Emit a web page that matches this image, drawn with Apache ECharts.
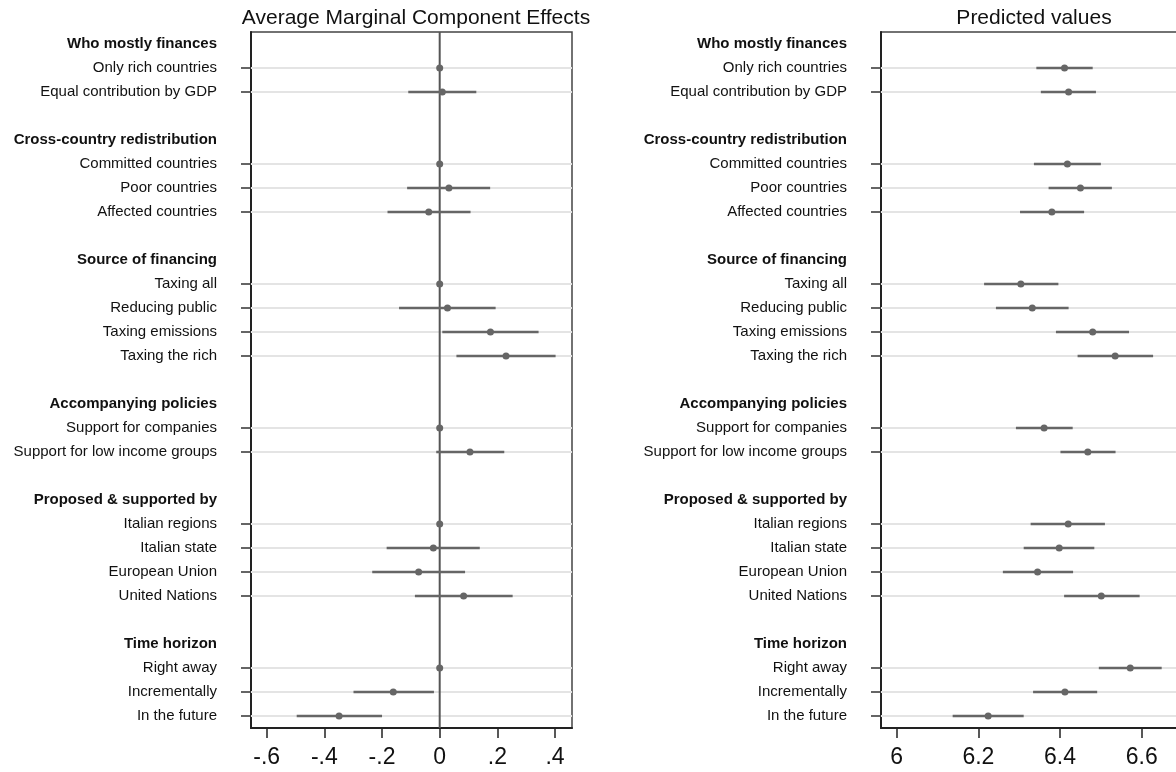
<!DOCTYPE html>
<html>
<head>
<meta charset="utf-8">
<script src="https://cdn.jsdelivr.net/npm/echarts@6/dist/echarts.min.js"></script>
<style>
html,body{margin:0;padding:0;background:#fff;}
#c{width:1176px;height:772px;}
#err{position:absolute;left:0;top:0;font:10px monospace;color:red;white-space:pre-wrap;width:600px;}
</style>
</head>
<body>
<div id="c"></div>
<div id="err"></div>
<script>
// ---------- DATA ----------
const rowLabels = [
  'Who mostly finances', 'Only rich countries', 'Equal contribution by GDP', '',
  'Cross-country redistribution', 'Committed countries', 'Poor countries', 'Affected countries', '',
  'Source of financing', 'Taxing all', 'Reducing public', 'Taxing emissions', 'Taxing the rich', '',
  'Accompanying policies', 'Support for companies', 'Support for low income groups', '',
  'Proposed & supported by', 'Italian regions', 'Italian state', 'European Union', 'United Nations', '',
  'Time horizon', 'Right away', 'Incrementally', 'In the future'
];
const headerFlags = [1,0,0,0, 1,0,0,0,0, 1,0,0,0,0,0, 1,0,0,0, 1,0,0,0,0,0, 1,0,0,0];

const amceEst = [null, 0, 0.009, null, null, 0, 0.032, -0.038, null, null, 0, 0.027, 0.176, 0.230, null, null, 0, 0.105, null, null, 0, -0.022, -0.073, 0.083, null, null, 0, -0.161, -0.349];
const amceLo  = [null, null, -0.109, null, null, null, -0.113, -0.181, null, null, null, -0.141, 0.009, 0.058, null, null, null, -0.012, null, null, null, -0.184, -0.234, -0.086, null, null, null, -0.299, -0.496];
const amceHi  = [null, null, 0.127, null, null, null, 0.175, 0.107, null, null, null, 0.194, 0.343, 0.402, null, null, null, 0.224, null, null, null, 0.139, 0.088, 0.253, null, null, null, -0.020, -0.200];

const predEst = [null, 6.411, 6.421, null, null, 6.418, 6.450, 6.380, null, null, 6.304, 6.332, 6.480, 6.535, null, null, 6.361, 6.468, null, null, 6.420, 6.398, 6.345, 6.501, null, null, 6.572, 6.412, 6.224];
const predLo  = [null, 6.342, 6.353, null, null, 6.336, 6.372, 6.302, null, null, 6.214, 6.243, 6.390, 6.443, null, null, 6.292, 6.401, null, null, 6.328, 6.311, 6.260, 6.410, null, null, 6.495, 6.334, 6.137];
const predHi  = [null, 6.480, 6.488, null, null, 6.500, 6.527, 6.459, null, null, 6.396, 6.421, 6.569, 6.628, null, null, 6.431, 6.536, null, null, 6.510, 6.484, 6.432, 6.595, null, null, 6.649, 6.491, 6.311];

const amceTicks = [-0.6, -0.4, -0.2, 0, 0.2, 0.4];
const amceTickLabels = ['-.6', '-.4', '-.2', '0', '.2', '.4'];
const predTicks = [6, 6.2, 6.4, 6.6];
const predTickLabels = ['6', '6.2', '6.4', '6.6'];

const titles = ['Average Marginal Component Effects', 'Predicted values'];

// ---------- STYLE / LAYOUT ----------
const FONT = 'Liberation Sans, Arial, Helvetica, sans-serif';
const C_DARK = '#222';
const C_MARK = '#666';
const C_GRID = '#e4e4e4';

const panels = [
  { left: 251, width: 321, min: -0.6545, max: 0.4589, est: amceEst, lo: amceLo, hi: amceHi,
    ticks: amceTicks, tickLabels: amceTickLabels, zero: true, titleX: 411 },
  { left: 881, width: 310, min: 5.9615, max: 6.7208, est: predEst, lo: predLo, hi: predHi,
    ticks: predTicks, tickLabels: predTickLabels, zero: false, titleX: 1029 }
];

const grids = [], xAxes = [], yAxes = [], series = [], titleOpts = [];

panels.forEach((p, i) => {
  grids.push({ left: p.left, top: 32, width: p.width, height: 696, outerBoundsMode: 'none', containLabel: false,
    show: true, borderColor: '#444', borderWidth: 1.5, backgroundColor: 'transparent' });
  titleOpts.push({ text: titles[i], left: p.titleX, top: 3, textAlign: 'center',
    textStyle: { fontFamily: FONT, fontSize: 21, fontWeight: 'normal', color: '#111' } });
  xAxes.push({
    type: 'value', gridIndex: i, min: p.min, max: p.max,
    axisLine: { show: true, onZero: false, lineStyle: { color: C_DARK, width: 2 } },
    axisTick: { show: true, length: 10, customValues: p.ticks, lineStyle: { color: C_DARK, width: 1.5 } },
    axisLabel: { show: true, customValues: p.ticks, margin: 18, fontFamily: FONT, fontSize: 23, color: '#111',
      formatter: v => { const k = p.ticks.findIndex(t => Math.abs(t - v) < 1e-9); return k >= 0 ? p.tickLabels[k] : ''; } },
    splitLine: { show: false }
  });
  yAxes.push({
    type: 'category', gridIndex: i, inverse: true, data: rowLabels, boundaryGap: true,
    axisLine: { show: true, onZero: false, lineStyle: { color: C_DARK, width: 2 } },
    axisTick: { show: true, alignWithLabel: true, length: 10, interval: idx => !headerFlags[idx] && rowLabels[idx] !== '',
      lineStyle: { color: '#333', width: 1.5 } },
    axisLabel: { show: true, interval: 0, margin: 34, fontFamily: FONT, fontSize: 15, color: '#111',
      formatter: (val, idx) => headerFlags[idx] ? '{h|' + val + '}' : val,
      rich: { h: { fontFamily: FONT, fontSize: 15, fontWeight: 'bold', color: '#111' } } },
    splitLine: { show: false }
  });

  const gridData = [], ciData = [], ptData = [];
  p.est.forEach((e, r) => {
    if (e === null) return;
    gridData.push([p.min, r]);
    ptData.push([e, r]);
    if (p.lo[r] !== null) ciData.push([p.lo[r], r, p.hi[r]]);
  });

  // light horizontal guide lines (plus the zero reference line on the AMCE panel)
  series.push({
    type: 'custom', xAxisIndex: i, yAxisIndex: i, silent: true, z: 1,
    data: gridData,
    renderItem: (params, api) => {
      const cs = params.coordSys;
      const y = api.coord([p.min, api.value(1)])[1];
      const children = [{ type: 'line', shape: { x1: cs.x, y1: y, x2: cs.x + cs.width, y2: y },
        style: { stroke: C_GRID, lineWidth: 2 } }];
      if (p.zero && params.dataIndex === 0) {
        const x0 = api.coord([0, api.value(1)])[0];
        children.push({ type: 'line', z2: 10, shape: { x1: x0, y1: cs.y, x2: x0, y2: cs.y + cs.height },
          style: { stroke: '#555', lineWidth: 2 } });
      }
      return { type: 'group', children };
    }
  });
  // confidence intervals
  series.push({
    type: 'custom', xAxisIndex: i, yAxisIndex: i, silent: true, z: 2,
    data: ciData,
    renderItem: (params, api) => {
      const a = api.coord([api.value(0), api.value(1)]);
      const b = api.coord([api.value(2), api.value(1)]);
      return { type: 'line', shape: { x1: a[0], y1: a[1], x2: b[0], y2: b[1] },
        style: { stroke: C_MARK, lineWidth: 2.5 } };
    }
  });
  // point estimates
  series.push({
    type: 'scatter', xAxisIndex: i, yAxisIndex: i, silent: true, z: 3,
    symbol: 'circle', symbolSize: 7, itemStyle: { color: C_MARK, opacity: 1 }, data: ptData
  });
});

try {
  const chart = echarts.init(document.getElementById('c'), null, { renderer: 'canvas' });
  chart.setOption({
    animation: false,
    backgroundColor: '#fff',
    title: titleOpts,
    grid: grids,
    xAxis: xAxes,
    yAxis: yAxes,
    series: series
  });
} catch (e) {
  document.getElementById('err').textContent = String(e && e.stack || e).slice(0, 1500);
}
</script>
</body>
</html>
